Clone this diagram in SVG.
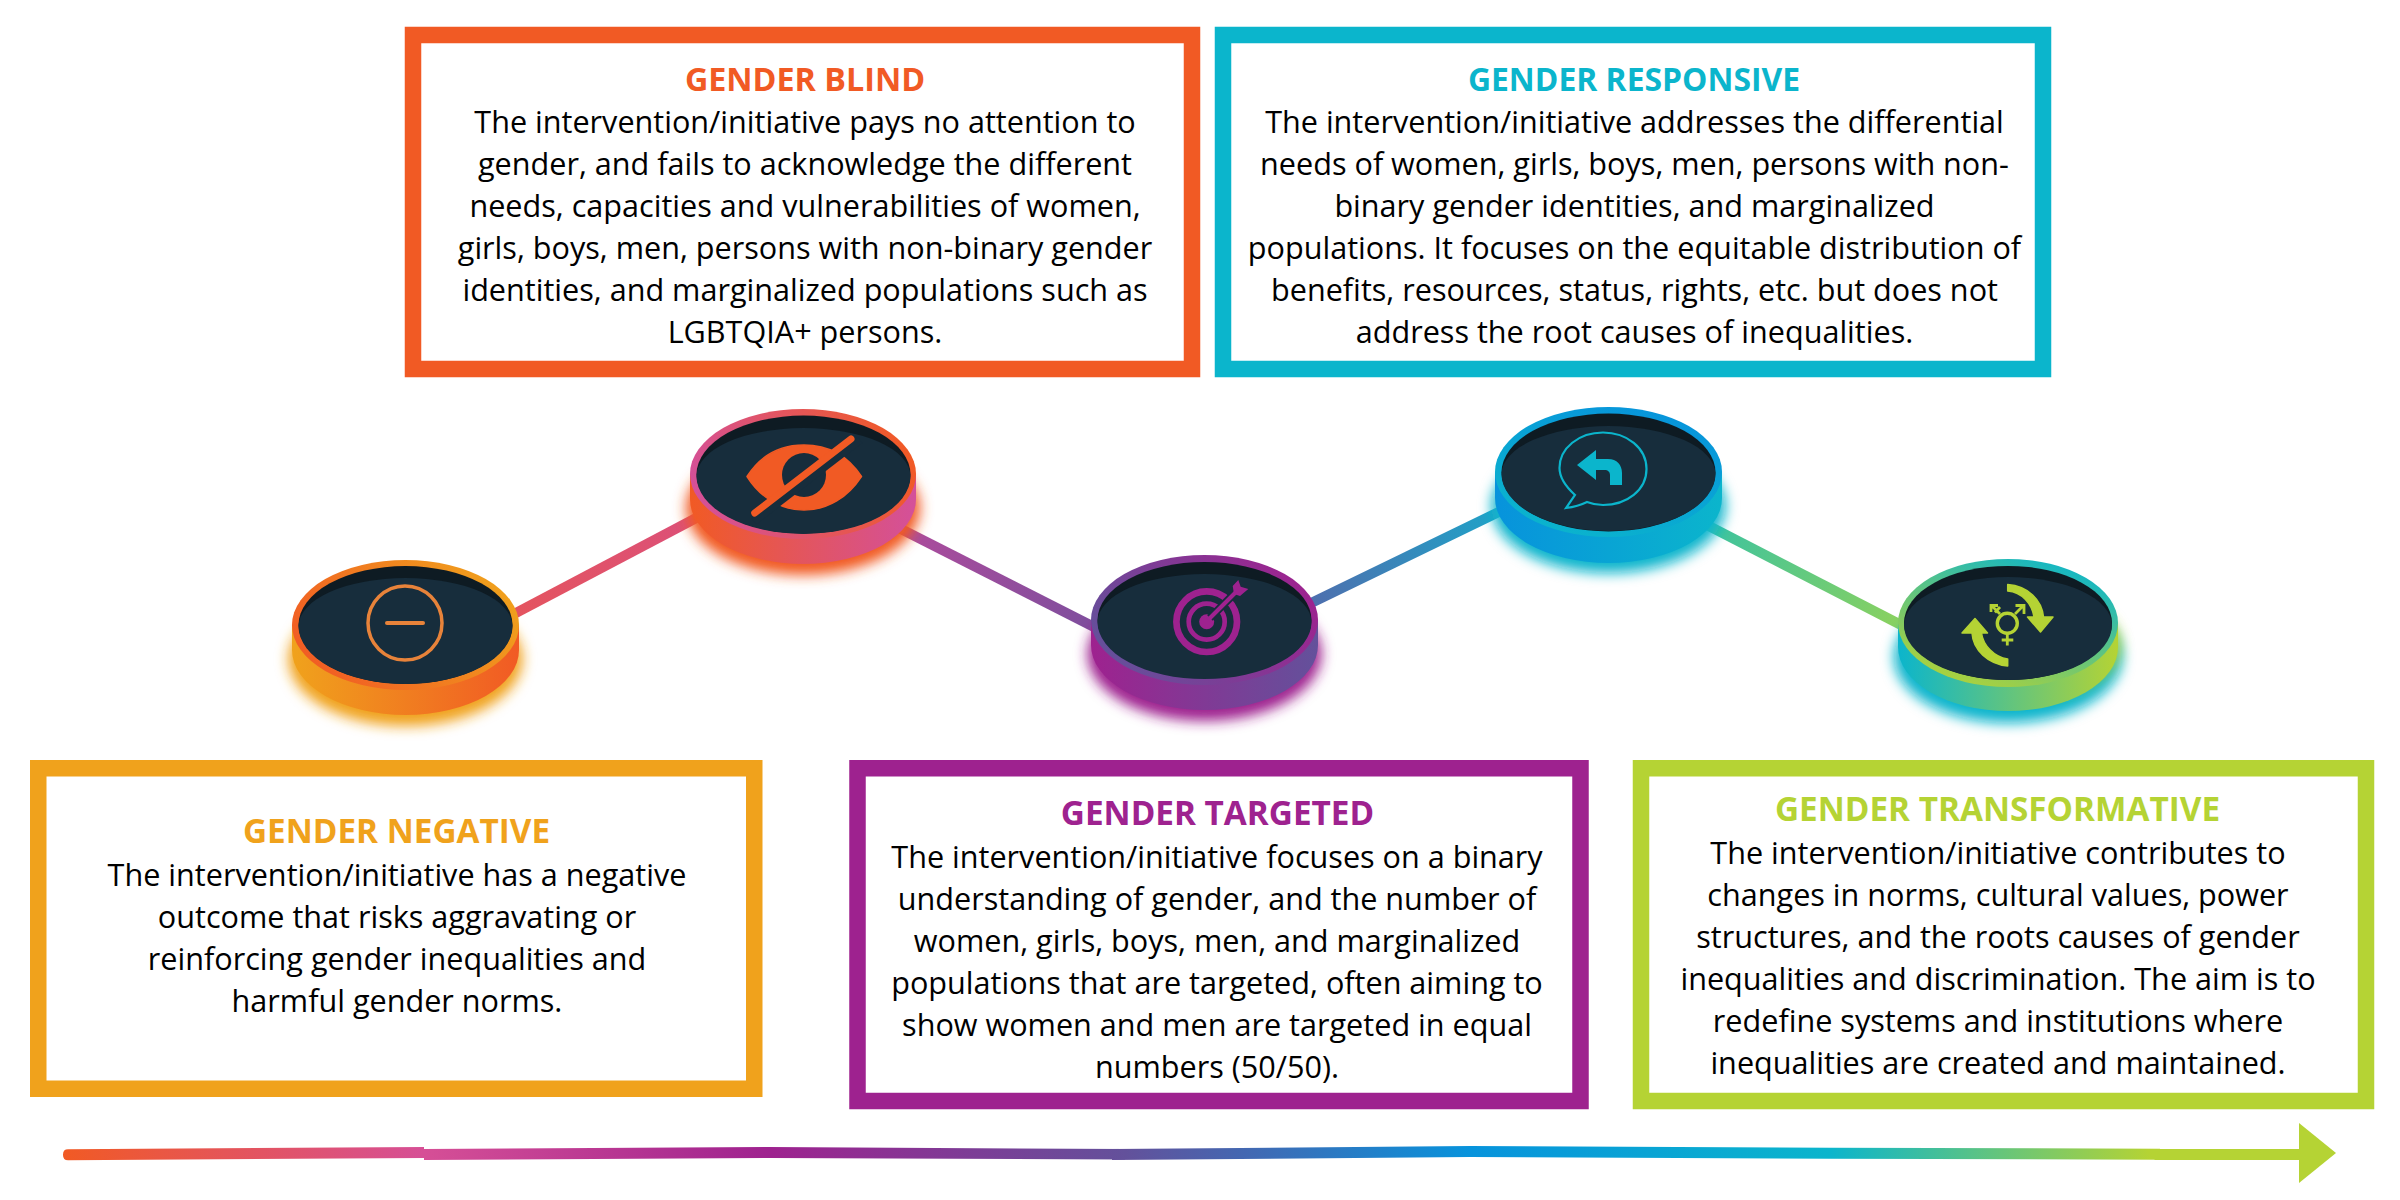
<svg xmlns="http://www.w3.org/2000/svg" width="2400" height="1200" viewBox="0 0 2400 1200">
<style>
text{font-family:"Open Sans","Noto Sans","Liberation Sans",sans-serif;text-anchor:middle}
.b{font-size:30.6px;fill:#000}
.t{font-size:32.3px;font-weight:700}
.t2{font-size:33.3px;font-weight:700}
.box{fill:#fff;stroke-width:16.5}
.dark{fill:#0e1b23}
.light{fill:#172d3c}
.conn{fill:none;stroke-width:10}
</style>
<defs>
<filter id="blur" x="-20%" y="-30%" width="140%" height="160%"><feGaussianBlur stdDeviation="6.5"/></filter>
<linearGradient id="rim1" x1="0" y1="0.7" x2="1" y2="0.3"><stop offset="0" stop-color="#f15a24"/><stop offset="1" stop-color="#f0a21c"/></linearGradient>
<linearGradient id="side1"><stop offset="0" stop-color="#f0a21c"/><stop offset="1" stop-color="#f15a24"/></linearGradient>
<linearGradient id="rim2" x1="0" y1="0.6" x2="1" y2="0.4"><stop offset="0" stop-color="#d4509a"/><stop offset="1" stop-color="#f15a24"/></linearGradient>
<linearGradient id="side2"><stop offset="0" stop-color="#f15a24"/><stop offset="1" stop-color="#d4509a"/></linearGradient>
<linearGradient id="rim3" x1="0" y1="0.7" x2="1" y2="0.3"><stop offset="0" stop-color="#63519b"/><stop offset="1" stop-color="#9e228f"/></linearGradient>
<linearGradient id="side3"><stop offset="0" stop-color="#9e228f"/><stop offset="1" stop-color="#63519b"/></linearGradient>
<linearGradient id="rim4" x1="0.2" y1="1" x2="0.8" y2="0"><stop offset="0" stop-color="#0bb5cc"/><stop offset="1" stop-color="#0793dc"/></linearGradient>
<linearGradient id="side4"><stop offset="0" stop-color="#0793dc"/><stop offset="1" stop-color="#0bb5cc"/></linearGradient>
<linearGradient id="rim5" x1="0.2" y1="1" x2="0.8" y2="0"><stop offset="0" stop-color="#b5d334"/><stop offset="1" stop-color="#0bb5cc"/></linearGradient>
<linearGradient id="side5"><stop offset="0" stop-color="#0bb5cc"/><stop offset="1" stop-color="#b5d334"/></linearGradient>
<linearGradient id="l1" gradientUnits="userSpaceOnUse" x1="517" y1="612" x2="693" y2="520"><stop offset="0" stop-color="#e4545f"/><stop offset="1" stop-color="#dc5078"/></linearGradient>
<linearGradient id="l2" gradientUnits="userSpaceOnUse" x1="903" y1="530" x2="1091" y2="625"><stop offset="0" stop-color="#ad4c9c"/><stop offset="1" stop-color="#7f4e9d"/></linearGradient>
<linearGradient id="l3" gradientUnits="userSpaceOnUse" x1="1312" y1="602" x2="1500" y2="512"><stop offset="0" stop-color="#4e6fae"/><stop offset="1" stop-color="#1fa3c8"/></linearGradient>
<linearGradient id="l4" gradientUnits="userSpaceOnUse" x1="1712" y1="527" x2="1898" y2="623"><stop offset="0" stop-color="#3ec39e"/><stop offset="1" stop-color="#8ad15f"/></linearGradient>
<linearGradient id="bar" gradientUnits="userSpaceOnUse" x1="63" y1="0" x2="2150" y2="0">
<stop offset="0" stop-color="#f15a24"/><stop offset="0.173" stop-color="#d64f96"/><stop offset="0.339" stop-color="#9e228f"/><stop offset="0.509" stop-color="#63519b"/><stop offset="0.674" stop-color="#0793dc"/><stop offset="0.847" stop-color="#0bb5cc"/><stop offset="1" stop-color="#b5d334"/></linearGradient>
</defs>
<rect width="2400" height="1200" fill="#fff"/>

<g id="connectors">
<line class="conn" x1="510" y1="616" x2="700" y2="516" stroke="url(#l1)"/>
<line class="conn" x1="895" y1="526" x2="1098" y2="629" stroke="url(#l2)"/>
<line class="conn" x1="1305" y1="606" x2="1507" y2="508" stroke="url(#l3)"/>
<line class="conn" x1="1705" y1="524" x2="1905" y2="627" stroke="url(#l4)"/>
</g>

<g id="node-negative-box">
<rect class="box" x="38.250" y="768.250" width="716" height="320.500" stroke="#f0a21c"/>
<text class="t2" x="396.500" y="843" fill="#f0a21c">GENDER NEGATIVE</text>
<text class="b" x="397" y="886">The intervention/initiative has a negative</text>
<text class="b" x="397" y="928">outcome that risks aggravating or</text>
<text class="b" x="397" y="970">reinforcing gender inequalities and</text>
<text class="b" x="397" y="1012">harmful gender norms.</text>
</g>
<g id="node-blind-box">
<rect class="box" x="413" y="35" width="779" height="334" stroke="#f15a24"/>
<text class="t" x="805" y="90.500" fill="#f15a24">GENDER BLIND</text>
<text class="b" x="805" y="133">The intervention/initiative pays no attention to</text>
<text class="b" x="805" y="175">gender, and fails to acknowledge the different</text>
<text class="b" x="805" y="217">needs, capacities and vulnerabilities of women,</text>
<text class="b" x="805" y="259">girls, boys, men, persons with non-binary gender</text>
<text class="b" x="805" y="301">identities, and marginalized populations such as</text>
<text class="b" x="805" y="343">LGBTQIA+ persons.</text>
</g>
<g id="node-targeted-box">
<rect class="box" x="857.500" y="768.250" width="723" height="332.750" stroke="#9e228f"/>
<text class="t2" x="1217.500" y="825" fill="#9e228f">GENDER TARGETED</text>
<text class="b" x="1217" y="868">The intervention/initiative focuses on a binary</text>
<text class="b" x="1217" y="910">understanding of gender, and the number of</text>
<text class="b" x="1217" y="952">women, girls, boys, men, and marginalized</text>
<text class="b" x="1217" y="994">populations that are targeted, often aiming to</text>
<text class="b" x="1217" y="1036">show women and men are targeted in equal</text>
<text class="b" x="1217" y="1078">numbers (50/50).</text>
</g>
<g id="node-responsive-box">
<rect class="box" x="1223" y="35" width="820" height="334" stroke="#0bb5cc"/>
<text class="t" x="1634" y="90.500" style="font-size:31.9px" fill="#0bb5cc">GENDER RESPONSIVE</text>
<text class="b" x="1634.500" y="133">The intervention/initiative addresses the differential</text>
<text class="b" x="1634.500" y="175">needs of women, girls, boys, men, persons with non-</text>
<text class="b" x="1634.500" y="217">binary gender identities, and marginalized</text>
<text class="b" x="1634.500" y="259">populations. It focuses on the equitable distribution of</text>
<text class="b" x="1634.500" y="301">benefits, resources, status, rights, etc. but does not</text>
<text class="b" x="1634.500" y="343">address the root causes of inequalities.</text>
</g>
<g id="node-transformative-box">
<rect class="box" x="1641" y="768.250" width="725" height="332.750" stroke="#b5d334"/>
<text class="t2" x="1997.500" y="821" fill="#b5d334">GENDER TRANSFORMATIVE</text>
<text class="b" x="1998" y="864">The intervention/initiative contributes to</text>
<text class="b" x="1998" y="906">changes in norms, cultural values, power</text>
<text class="b" x="1998" y="948">structures, and the roots causes of gender</text>
<text class="b" x="1998" y="990">inequalities and discrimination. The aim is to</text>
<text class="b" x="1998" y="1032">redefine systems and institutions where</text>
<text class="b" x="1998" y="1074">inequalities are created and maintained.</text>
</g>

<g id="node-negative">
<ellipse cx="405.500" cy="659" rx="117" ry="67" fill="#f0a21c" filter="url(#blur)"/>
<path d="M292,625V650A113.500,65 0 0 0 519,650V625Z" fill="url(#side1)"/>
<ellipse cx="405.500" cy="625" rx="113.500" ry="65" fill="url(#rim1)"/>
<ellipse class="dark" cx="405.500" cy="625" rx="107" ry="59"/>
<path class="light" d="M298.500,626A107,48 0 0 1 512.500,626A107,58 0 0 1 298.500,626Z"/>
<circle cx="405" cy="623" r="37" fill="none" stroke="#e8833a" stroke-width="3.500"/>
<line x1="387" y1="623" x2="423" y2="623" stroke="#e8833a" stroke-width="4" stroke-linecap="round"/>
</g>

<g id="node-blind">
<ellipse cx="803" cy="508" rx="117" ry="67" fill="#f15a24" filter="url(#blur)"/>
<path d="M690,474V499A113,65 0 0 0 916,499V474Z" fill="url(#side2)"/>
<ellipse cx="803" cy="474" rx="113" ry="65" fill="url(#rim2)"/>
<ellipse class="dark" cx="803.500" cy="474.500" rx="107" ry="59"/>
<path class="light" d="M696.500,476A107,48 0 0 1 910.500,476A107,58 0 0 1 696.500,476Z"/>
<path d="M747,476.500C760,456 780,445 804,445C828,445 848,456 861.500,476.500C848,497 828,510 804,510C780,510 760,497 747,476.500Z" fill="#f15a24" stroke="#f15a24" stroke-width="1.500" stroke-linejoin="round"/>
<circle cx="804" cy="475" r="22" fill="#172d3c"/>
<line x1="860" y1="440" x2="754" y2="521.500" stroke="#172d3c" stroke-width="7.400"/>
<line x1="851" y1="439" x2="754.700" y2="513" stroke="#f15a24" stroke-width="7" stroke-linecap="round"/>
</g>

<g id="node-targeted">
<ellipse cx="1204.500" cy="654" rx="117" ry="67" fill="#9e228f" filter="url(#blur)"/>
<path d="M1091,620V645A113.500,65 0 0 0 1318,645V620Z" fill="url(#side3)"/>
<ellipse cx="1204.500" cy="620" rx="113.500" ry="65" fill="url(#rim3)"/>
<ellipse class="dark" cx="1204.500" cy="620" rx="107" ry="58"/>
<path class="light" d="M1097.500,622A107,48 0 0 1 1311.500,622A107,57 0 0 1 1097.500,622Z"/>
<circle cx="1206.700" cy="621.700" r="30.300" fill="none" stroke="#9e228f" stroke-width="6.700"/>
<circle cx="1206.700" cy="621.700" r="18" fill="none" stroke="#9e228f" stroke-width="4.700"/>
<circle cx="1206.700" cy="621.700" r="7.500" fill="#9e228f"/>
<line x1="1210" y1="618" x2="1233" y2="595" stroke="#172d3c" stroke-width="8"/>
<line x1="1208" y1="620" x2="1236" y2="592" stroke="#9e228f" stroke-width="4"/>
<path d="M1238.300,580L1240.700,586.700L1248.300,589L1240,596L1234,594L1232.700,586Z" fill="#9e228f"/>
</g>

<g id="node-responsive">
<ellipse cx="1608.500" cy="506" rx="117" ry="67" fill="#0bb5cc" filter="url(#blur)"/>
<path d="M1495,472V498A113.500,65 0 0 0 1722,498V472Z" fill="url(#side4)"/>
<ellipse cx="1608.500" cy="472" rx="113.500" ry="65" fill="url(#rim4)"/>
<ellipse class="dark" cx="1608.500" cy="472.500" rx="107" ry="59"/>
<path class="light" d="M1501.500,474A107,48 0 0 1 1715.500,474A107,57 0 0 1 1501.500,474Z"/>
<path d="M1575,495C1564,485 1559.500,477 1559.500,468C1559.500,448 1579,432.500 1603,432.500C1627,432.500 1646.500,448 1646.500,469C1646.500,490 1627,505 1603,505C1597,505 1592,504 1587,502C1581,505 1574,507 1566,508Z" fill="none" stroke="#0bb5cc" stroke-width="2.200"/>
<path d="M1577,465L1596,450V459H1608C1617,459 1622,465 1622,473V485H1610V475C1610,472 1608,470 1604.600,470H1596V480Z" fill="#0bb5cc"/>
</g>

<g id="node-transformative">
<ellipse cx="2008" cy="657" rx="114" ry="66" fill="#0bb5cc" filter="url(#blur)"/>
<ellipse cx="2040" cy="645" rx="80" ry="50" fill="#b5d334" filter="url(#blur)"/>
<path d="M1898,623V647A110,64 0 0 0 2118,647V623Z" fill="url(#side5)"/>
<ellipse cx="2008" cy="623" rx="110" ry="64" fill="url(#rim5)"/>
<ellipse class="dark" cx="2008" cy="623" rx="104" ry="57"/>
<path class="light" d="M1904,625A104,48 0 0 1 2112,625A104,55 0 0 1 1904,625Z"/>
<g fill="#b5d334" stroke="#b5d334" stroke-width="1.500" stroke-linejoin="round">
<path d="M2007.700,584.500C2028,586 2042,600 2043.500,617L2053,617L2040.500,632L2027.500,617L2034,617C2032,604 2022,592 2007.700,591Z"/>
<path d="M2007.700,666C1988,664 1973,650 1972,633L1962,633L1975,618.500L1987.500,633L1981.500,633C1983,645 1994,657 2007.700,659Z"/>
</g>
<g fill="none" stroke="#b5d334" stroke-width="2.800">
<circle cx="2007.300" cy="623.300" r="10" stroke-width="3.400"/>
<path d="M2007.300,634V645.500M2001.700,640H2013.300"/>
<path d="M2015,614L2023.500,605.500M2015.500,605.500H2024V614"/>
<path d="M2000,614L1992,606M1998,605.500H1991V612M1995,612.500L2000,607"/>
</g>
</g>

<g id="scale-arrow">
<path d="M68,1149.300L424,1147V1158L68,1160.300Q63,1160.300 63,1155V1154.500Q63,1149.300 68,1149.300Z" fill="url(#bar)"/>
<path d="M424,1149L770,1147V1158L424,1160Z" fill="url(#bar)"/>
<path d="M770,1147L1125,1149V1159.500L770,1158Z" fill="url(#bar)"/>
<path d="M1112,1149L1470,1146V1157L1112,1160Z" fill="url(#bar)"/>
<path d="M1470,1146L1830,1147.700V1158.700L1470,1157Z" fill="url(#bar)"/>
<path d="M1830,1147.700L2160,1148.700V1159.700L1830,1158.700Z" fill="url(#bar)"/>
<path d="M2145,1149H2300V1160H2155Z" fill="#b5d334"/>
<path d="M2299,1123L2336,1153L2299,1183Z" fill="#b5d334"/>
</g>
</svg>
